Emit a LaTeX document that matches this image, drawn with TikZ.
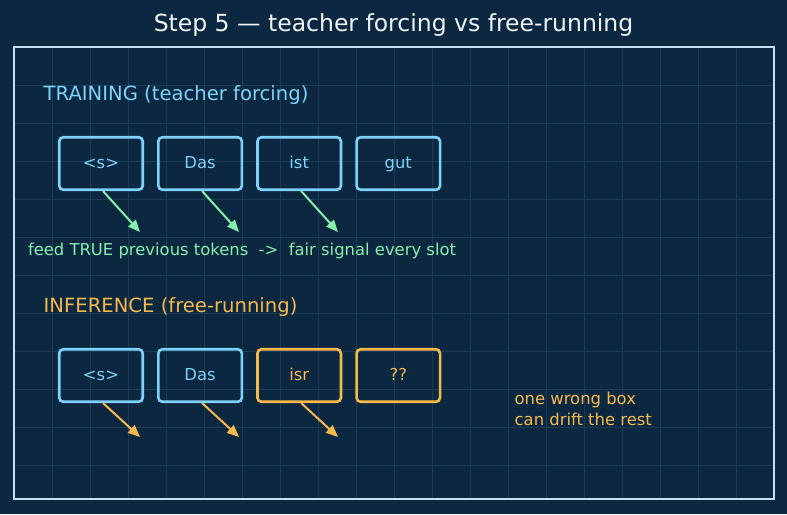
\documentclass[tikz,border=0pt]{standalone}
\usepackage{fontspec}
\setmainfont{DejaVu Sans}
\usetikzlibrary{positioning,arrows.meta}
\definecolor{bgnavy}{HTML}{0C2740}
\definecolor{gridnavy}{HTML}{1B3B57}
\definecolor{framepale}{HTML}{C5DEF2}
\definecolor{sky}{HTML}{7DD3FC}
\definecolor{mint}{HTML}{86EFAC}
\definecolor{amber}{HTML}{F6B94C}
\definecolor{titlewhite}{HTML}{F1F5F9}
\begin{document}
\begin{tikzpicture}[x=1pt,y=-1pt,
  tok/.style={draw=sky,text=sky,line width=2.6pt,rounded corners=4pt,
    minimum width=83.5pt,minimum height=52.5pt,inner sep=0pt,
    text height=11.5pt,text depth=2.5pt,
    font=\fontsize{16.4}{20}\selectfont},
  badtok/.style={tok,draw=amber,text=amber},
  feed/.style={line width=2pt,-{Triangle[length=12pt,width=10pt]}},
  lbl/.style={anchor=west,inner sep=0pt,font=\fontsize{19.6}{24}\selectfont}]
% background and grid
\useasboundingbox[fill=bgnavy] (0,0) rectangle (787,514);
\foreach \i in {1,...,19}
  \draw[gridnavy,line width=0.8pt] (14+38*\i,47) -- (14+38*\i,499);
\foreach \j in {1,...,11}
  \draw[gridnavy,line width=0.8pt] (14,47+38*\j) -- (774,47+38*\j);
\draw[framepale,line width=2pt] (14,47) rectangle (774,499);
\node[text=titlewhite,font=\fontsize{23.5}{28}\selectfont] (title) at (393.5,25.5) {Step 5 — teacher forcing vs free-running};

% training row
\node[lbl,text=sky] (trainlbl) at (43.5,95) {TRAINING (teacher forcing)};
\node[tok] (t1) at (101,163.5) {<s>};
\node[tok,right=13pt of t1] (t2) {Das};
\node[tok,right=13pt of t2] (t3) {ist};
\node[tok,right=13pt of t3] (t4) {gut};
\coordinate (t1end) at (140,232);
\coordinate (t2end) at (239,232);
\coordinate (t3end) at (338,232);
\draw[feed,mint] ([xshift=2pt]t1.south) -- (t1end);
\draw[feed,mint] ([xshift=2pt]t2.south) -- (t2end);
\draw[feed,mint] ([xshift=2pt]t3.south) -- (t3end);
\node[text=mint,font=\fontsize{16.4}{20}\selectfont] (feedtxt) at (242,250.5) {feed TRUE previous tokens \ ->\ \ fair signal every slot};

% inference row
\node[lbl,text=amber] (inflbl) at (43.5,307.5) {INFERENCE (free-running)};
\node[tok] (i1) at (101,375.5) {<s>};
\node[tok,right=13pt of i1] (i2) {Das};
\node[badtok,right=13pt of i2] (i3) {isr};
\node[badtok,right=13pt of i3] (i4) {??};
\coordinate (i1end) at (140,437);
\coordinate (i2end) at (239,437);
\coordinate (i3end) at (338,437);
\draw[feed,amber] ([xshift=2pt]i1.south) -- (i1end);
\draw[feed,amber] ([xshift=2pt]i2.south) -- (i2end);
\draw[feed,amber] ([xshift=2pt]i3.south) -- (i3end);
\node[text=amber,anchor=west,align=left,inner sep=0pt,font=\fontsize{16.4}{21}\selectfont] (drift) at (514.5,409) {one wrong box\\can drift the rest};
\end{tikzpicture}
\end{document}
